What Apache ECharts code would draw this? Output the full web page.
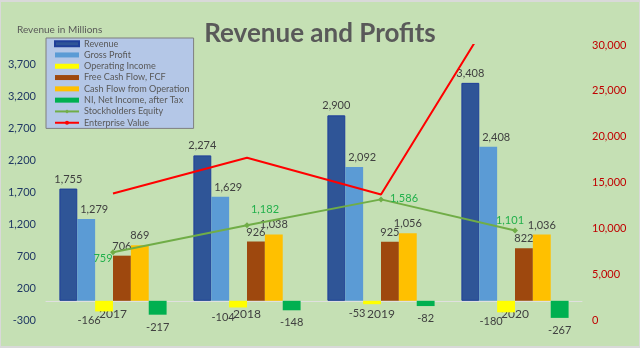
<!DOCTYPE html>
<html>
<head>
<meta charset="utf-8">
<script src="https://cdn.jsdelivr.net/npm/echarts@6/dist/echarts.min.js"></script>
<style>
html,body{margin:0;padding:0;background:#d9d9d9;}
#chart{position:absolute;left:0;top:0;width:640px;height:348px;}
#frame{position:absolute;left:0;top:0;width:638px;height:344px;border-top:2px solid #d9d9d9;border-left:1px solid #d9d9d9;border-right:1px solid #d9d9d9;border-bottom:2px solid #d9d9d9;pointer-events:none;}
</style>
</head>
<body>
<div id="chart"></div>
<div id="frame"></div>
<script>
const categories = ['2017', '2018', '2019', '2020'];
const revenue = [1755, 2274, 2900, 3408];
const grossProfit = [1279, 1629, 2092, 2408];
const operatingIncome = [-166, -104, -53, -180];
const freeCashFlow = [706, 926, 925, 822];
const cashFlowOps = [869, 1038, 1056, 1036];
const netIncome = [-217, -148, -82, -267];
const stockholdersEquity = [759, 1182, 1586, 1101];
const enterpriseValue = [13800, 17700, 13700, 37400];
const leftTicks = [-300, 200, 700, 1200, 1700, 2200, 2700, 3200, 3700];

const FONT = 'Lato';
const labelGray = '#404040';
const equityLabelOffsets = [[-10, 15], [18, -7], [23, 8], [-5, -1]];

function barSeries(name, data, color, pos, offset, extra) {
  return Object.assign({
    name: name,
    type: 'bar',
    data: data,
    barGap: '0%',
    barCategoryGap: '20%',
    itemStyle: { color: color },
    label: {
      show: true,
      position: pos,
      distance: 4,
      offset: offset || [0, 0],
      color: labelGray,
      fontSize: 11,
      fontFamily: FONT,
      formatter: p => p.value.toLocaleString('en-US')
    }
  }, extra || {});
}

const chart = echarts.init(document.getElementById('chart'));
chart.setOption({
  backgroundColor: '#C5E0B4',
  animation: false,
  textStyle: { fontFamily: FONT },
  title: [
    { text: 'Revenue and Profits', left: 'center', top: 16,
      textStyle: { fontSize: 26, fontWeight: 'bold', color: '#595959', fontFamily: FONT } },
    { text: 'Revenue in Millions', left: 12, top: 20,
      textStyle: { fontSize: 10, fontWeight: 'normal', color: '#595959', fontFamily: FONT } }
  ],
  legend: {
    orient: 'vertical',
    left: 46, top: 38,
    backgroundColor: '#B4C7E7',
    borderColor: '#7F7F7F', borderWidth: 1, borderRadius: 0,
    padding: [0, 4, 0, 8],
    itemWidth: 24, itemHeight: 5, itemGap: 0,
    textStyle: { fontSize: 9.1, lineHeight: 11.3, color: '#595959', fontFamily: FONT },
    data: [
      { name: 'Revenue', icon: 'rect' },
      { name: 'Gross Profit', icon: 'rect' },
      { name: 'Operating Income', icon: 'rect' },
      { name: 'Free Cash Flow, FCF', icon: 'rect' },
      { name: 'Cash Flow from Operation', icon: 'rect' },
      { name: 'NI, Net Income, after Tax', icon: 'rect' },
      { name: 'Stockholders Equity' },
      { name: 'Enterprise Value' }
    ]
  },
  grid: { left: 46, right: 58, top: 45, bottom: 28, containLabel: false },
  xAxis: {
    type: 'category',
    data: categories,
    offset: -19,
    axisLine: { onZero: false, lineStyle: { color: '#E0E0E0', width: 1 } },
    axisTick: { show: false },
    axisLabel: { color: labelGray, fontSize: 12, margin: 7, fontFamily: FONT }
  },
  yAxis: [
    {
      type: 'value', min: -300, max: 4000,
      splitLine: { show: false },
      axisLine: { show: false }, axisTick: { show: false },
      axisLabel: { customValues: leftTicks, color: '#203864', fontSize: 11, margin: 10, fontFamily: FONT }
    },
    {
      type: 'value', min: 0, max: 30000, interval: 5000, position: 'right',
      splitLine: { show: false },
      axisLine: { show: false }, axisTick: { show: false },
      axisLabel: { color: '#C00000', fontSize: 11, margin: 10, fontFamily: FONT }
    }
  ],
  series: [
    barSeries('Revenue', revenue, '#2F5597', 'top', [0, 0], { itemStyle: { color: '#2F5597', borderColor: '#1F3F99', borderWidth: 1 } }),
    barSeries('Gross Profit', grossProfit, '#5B9BD5', 'top', [8, 0]),
    barSeries('Operating Income', operatingIncome, '#FFFF00', 'bottom', [-15, 0]),
    barSeries('Free Cash Flow, FCF', freeCashFlow, '#9E480E', 'top', [0, 0]),
    barSeries('Cash Flow from Operation', cashFlowOps, '#FFC000', 'top', [0, 0]),
    barSeries('NI, Net Income, after Tax', netIncome, '#00B050', 'bottom', [0, 3]),
    {
      name: 'Stockholders Equity',
      type: 'line',
      yAxisIndex: 0,
      z: 5,
      data: stockholdersEquity.map((v, i) => ({
        value: v,
        label: { offset: equityLabelOffsets[i] }
      })),
      symbol: 'diamond', symbolSize: 6,
      lineStyle: { color: '#70AD47', width: 2 },
      itemStyle: { color: '#70AD47' },
      label: {
        show: true, position: 'top', distance: 0,
        color: '#22B04B', fontSize: 11, fontFamily: FONT,
        formatter: p => p.value.toLocaleString('en-US')
      }
    },
    {
      name: 'Enterprise Value',
      type: 'line',
      yAxisIndex: 1,
      z: 6,
      data: enterpriseValue,
      symbol: 'none',
      clip: true,
      lineStyle: { color: '#FF0000', width: 2 },
      itemStyle: { color: '#FF0000' }
    }
  ]
});
</script>
</body>
</html>
